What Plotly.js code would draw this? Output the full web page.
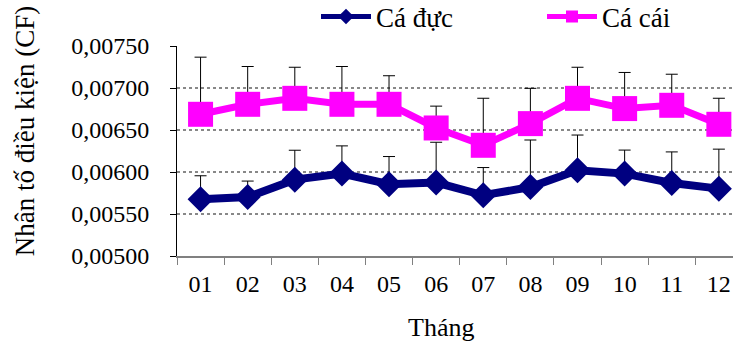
<!DOCTYPE html>
<html>
<head>
<meta charset="utf-8">
<script src="https://cdn.plot.ly/plotly-3.0.1.min.js"></script>
<style>html,body{margin:0;padding:0;background:#fff;}#chart{width:733px;height:344px;}</style>
</head>
<body>
<div id="chart"></div>
<script>
const months = ["01","02","03","04","05","06","07","08","09","10","11","12"];
const maleCF = [0.005675,0.005702,0.005909,0.005981,0.005854,0.005874,0.005723,0.005821,0.006020,0.005981,0.005869,0.005802];
const maleSD = [0.00028,0.00019,0.00035,0.00033,0.00033,0.00048,0.00033,0.00056,0.00042,0.00028,0.00037,0.00047];
const femaleCF = [0.006687,0.006806,0.006877,0.006806,0.006806,0.006524,0.006318,0.006576,0.006877,0.006755,0.006794,0.006568];
const femaleSD = [0.00068,0.00045,0.00037,0.00045,0.00034,0.00026,0.00056,0.00042,0.00037,0.00043,0.00037,0.00031];
const zeros = months.map(() => 0);

const font = "Liberation Serif, Times New Roman, serif";

const traces = [
  {
    x: months, y: maleCF, name: "Cá đực", type: "scatter", mode: "lines+markers",
    line: {color: "#000080", width: 8},
    marker: {symbol: "diamond", size: 20, color: "#000080"},
    error_y: {type: "data", symmetric: false, array: maleSD, arrayminus: zeros, color: "#000000", thickness: 1, width: 6}
  },
  {
    x: months, y: femaleCF, name: "Cá cái", type: "scatter", mode: "lines+markers",
    line: {color: "#FF00FF", width: 7},
    marker: {symbol: "square", size: 25, color: "#FF00FF"},
    error_y: {type: "data", symmetric: false, array: femaleSD, arrayminus: zeros, color: "#000000", thickness: 1, width: 6}
  }
];

const layout = {
  width: 733, height: 344,
  margin: {l: 177, r: 0, t: 46, b: 88},
  paper_bgcolor: "#ffffff", plot_bgcolor: "#ffffff",
  separators: ",.",
  font: {family: font, size: 24, color: "#000"},
  showlegend: true,
  legend: {orientation: "h", x: 316/733, xref: "container", xanchor: "left", y: 1 - 17/344, yref: "container", yanchor: "middle",
           font: {family: font, size: 27, color: "#000"}, itemwidth: 50, entrywidth: 161, itemsizing: "constant",
           tracegroupgap: 0, bgcolor: "rgba(0,0,0,0)"},
  xaxis: {
    type: "category", range: [-0.5, 11.3],
    showline: true, linecolor: "#808080", linewidth: 1.5,
    ticks: "outside", ticklen: 7, tickcolor: "#808080", tickson: "boundaries",
    showgrid: false, zeroline: false,
    tickfont: {family: font, size: 24, color: "#000"}, ticklabelstandoff: 6
  },
  yaxis: {
    range: [0.005, 0.0075], tickvals: [0.005,0.0055,0.006,0.0065,0.007,0.0075], tickformat: ".5f",
    showline: true, linecolor: "#000", linewidth: 1,
    ticks: "outside", ticklen: 6, tickcolor: "#000",
    showgrid: true, gridcolor: "#888", griddash: "dot", gridwidth: 1.5,
    zeroline: false,
    tickfont: {family: font, size: 24, color: "#000"}, ticklabelstandoff: 16
  },
  annotations: [
    {text: "Tháng", xref: "paper", yref: "paper", x: (441-177)/556, y: (255.7-327)/210, xanchor: "center", yanchor: "middle", showarrow: false,
     font: {family: font, size: 26, color: "#000"}},
    {text: "Nhân tố điều kiện (CF)", xref: "paper", yref: "paper", x: (25-177)/556, y: (255.7-131)/210, xanchor: "center", yanchor: "middle",
     textangle: -90, showarrow: false, font: {family: font, size: 27, color: "#000"}}
  ]
};

Plotly.newPlot("chart", traces, layout, {displayModeBar: false, staticPlot: true});
</script>
</body>
</html>
